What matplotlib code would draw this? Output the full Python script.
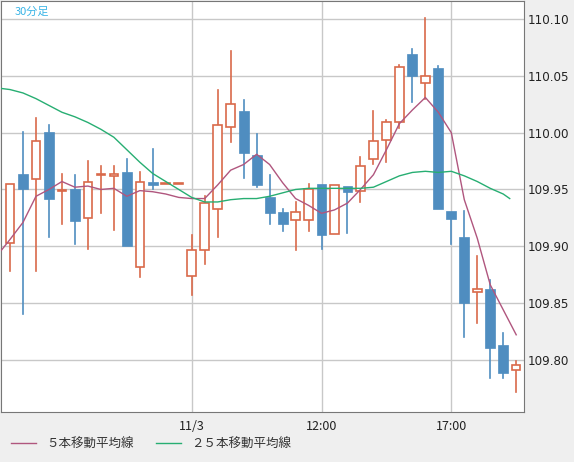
import matplotlib
matplotlib.use("Agg")
import matplotlib.pyplot as plt
from matplotlib.lines import Line2D

plt.rcParams['font.family'] = ['Noto Sans CJK JP', 'DejaVu Sans']

opens  = [109.903,109.964,109.959,110.001,109.949,109.950,109.925,109.963,109.962,109.965,
          109.882,109.957,109.955,109.955,109.874,109.897,109.933,110.005,110.019,109.980,
          109.943,109.930,109.923,109.923,109.955,109.911,109.953,109.949,109.977,109.994,
          110.009,110.069,110.044,110.057,109.931,109.908,109.860,109.862,109.813,109.791]
highs  = [109.955,110.001,110.013,110.007,109.964,109.963,109.975,109.971,109.971,109.977,
          109.965,109.986,109.955,109.955,109.910,109.944,110.038,110.072,110.029,109.999,
          109.963,109.933,109.939,109.955,109.955,109.954,109.953,109.979,110.019,110.011,
          110.060,110.074,110.101,110.059,109.931,109.931,109.891,109.870,109.824,109.799]
lows   = [109.878,109.840,109.878,109.908,109.920,109.902,109.898,109.929,109.914,109.900,
          109.873,109.950,109.955,109.955,109.857,109.884,109.908,109.992,109.960,109.952,
          109.920,109.913,109.897,109.913,109.898,109.911,109.912,109.939,109.972,109.974,
          110.004,110.027,110.030,109.933,109.902,109.820,109.832,109.784,109.784,109.772]
closes = [109.955,109.950,109.993,109.942,109.949,109.922,109.957,109.964,109.964,109.900,
          109.957,109.954,109.955,109.955,109.897,109.938,110.007,110.025,109.982,109.954,
          109.929,109.920,109.930,109.950,109.910,109.954,109.948,109.971,109.993,110.009,
          110.058,110.050,110.050,109.933,109.924,109.850,109.862,109.810,109.788,109.795]

ma5 = [109.896,109.906,109.921,109.944,109.950,109.957,109.952,109.953,109.950,109.951,109.944,
       109.949,109.948,109.946,109.943,109.942,109.942,109.954,109.967,109.972,109.981,
       109.972,109.956,109.942,109.936,109.929,109.932,109.938,109.950,109.963,109.985,
       110.008,110.020,110.031,110.018,110.000,109.941,109.907,109.866,109.844,109.822]
ma25 = [110.039,110.038,110.035,110.030,110.024,110.018,110.014,110.009,110.003,109.996,109.985,
        109.974,109.964,109.957,109.950,109.943,109.939,109.939,109.941,109.942,109.942,
        109.944,109.947,109.950,109.951,109.951,109.951,109.951,109.951,109.952,109.957,
        109.962,109.965,109.966,109.965,109.966,109.962,109.957,109.951,109.946,109.942]

tick_pos = [14, 24, 34]
tick_labels = ['11/3', '12:00', '17:00']
yticks = [109.80, 109.85, 109.90, 109.95, 110.00, 110.05, 110.10]

UP = '#d9694a'
DOWN = '#4f8dc0'
fig = plt.figure(figsize=(5.74, 4.62), dpi=100, facecolor='#efefef')
ax = fig.add_axes([1/574, 50/462, 523/574, 411/462])
ax.set_facecolor('white')

for i, (o, h, l, c) in enumerate(zip(opens, highs, lows, closes)):
    up = c >= o
    col = UP if up else DOWN
    lo, hi = min(o, c), max(o, c)
    ax.plot([i, i], [l, lo], color=col, lw=1.2, zorder=3)
    ax.plot([i, i], [hi, h], color=col, lw=1.2, zorder=3)
    hgt = max(hi - lo, 0.0004)
    if up:
        ax.add_patch(plt.Rectangle((i - 0.33, lo), 0.66, hgt, facecolor='white',
                                   edgecolor=col, lw=1.2, zorder=4))
    else:
        ax.add_patch(plt.Rectangle((i - 0.38, lo), 0.76, hgt, facecolor=col,
                                   edgecolor=col, lw=0.5, zorder=4))

xs = [-0.7] + list(range(40))
xs25 = [-0.7] + list(range(39)) + [38.5]
ax.plot(xs, ma5, color='#b0567e', lw=1, zorder=5)
ax.plot(xs25, ma25, color='#27ae72', lw=1, zorder=5)

ax.set_xlim(-0.695, 39.6)
ax.set_ylim(109.754, 110.116)
ax.set_xticks(tick_pos)
ax.set_xticklabels(tick_labels, fontsize=9, color='#222222')
ax.set_yticks(yticks)
ax.set_yticklabels([f'{v:.2f}' for v in yticks], fontsize=8.6, color='#222222',
                   family=['DejaVu Sans'])
ax.yaxis.tick_right()
ax.tick_params(length=0, pad=3)
ax.tick_params(axis='x', pad=6)
ax.grid(True, color='#c8c8c8', lw=1)
ax.set_axisbelow(True)
for s in ax.spines.values():
    s.set_color('#777777')

ax.text(0.027, 0.985, '30分足', transform=ax.transAxes, color='#39b4e6',
        fontsize=8, va='top', ha='left')

handles = [Line2D([], [], color='#b0567e', lw=1), Line2D([], [], color='#27ae72', lw=1)]
fig.legend(handles, ['５本移動平均線', '２５本移動平均線'], loc='lower left',
           bbox_to_anchor=(0.0, 0.0), ncol=2, frameon=False, fontsize=9,
           handlelength=2, columnspacing=1.8, labelcolor='#333333')

fig.savefig('out.png', dpi=100, facecolor=fig.get_facecolor())
